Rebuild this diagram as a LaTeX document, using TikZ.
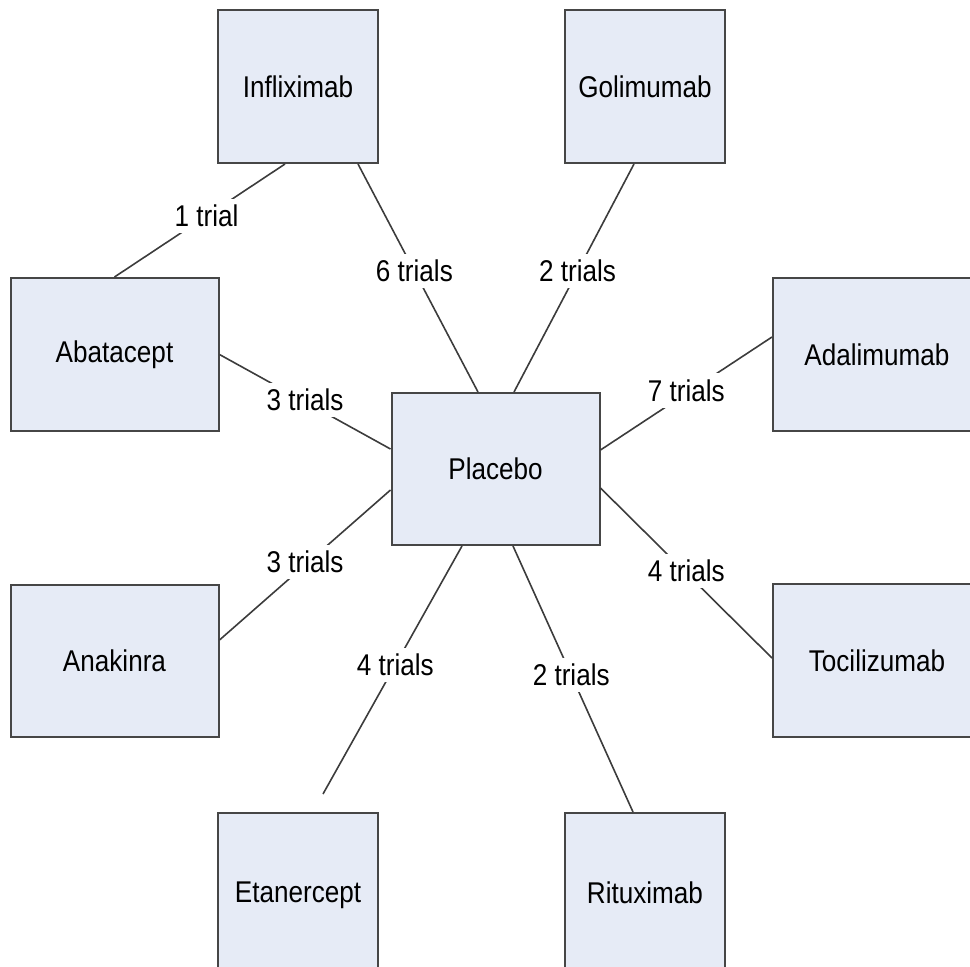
\documentclass[tikz,border=0pt]{standalone}
\usepackage{fontspec}
\setmainfont{Liberation Sans}[FakeStretch=0.87]
\begin{document}
\begin{tikzpicture}[x=1pt,y=-1pt,
  drug/.style={draw=boxline, line width=2pt, fill=boxfill, inner sep=0pt,
    minimum height=153pt, font=\fontsize{30}{34}\selectfont},
  narrow/.style={drug, minimum width=160pt},
  wide/.style={drug, minimum width=208pt},
  link/.style={draw=linkcol, line width=1.6pt},
  count/.style={fill=white, inner xsep=5pt, inner ysep=6pt, font=\fontsize{30}{34}\selectfont}]
\definecolor{boxfill}{RGB}{230,235,246}
\definecolor{boxline}{RGB}{70,70,70}
\definecolor{linkcol}{RGB}{60,60,60}
\useasboundingbox (0,0) rectangle (970,967);
\clip (0,0) rectangle (970,967);

% treatment boxes (outer ones run past the frame edge)
\node[narrow] (infl) at (298,86.5)  {Infliximab};
\node[narrow] (goli) at (645,86.5)  {Golimumab};
\node[wide]   (abat) at (114.5,354.5) {Abatacept};
\node[wide, minimum width=224pt] (adal) at (885,354.5) {\hspace*{-16pt}Adalimumab};
\node[wide, minimum height=152pt] (plac) at (495.5,469) {Placebo};
\node[wide, minimum height=152pt] (anak) at (114.5,661) {Anakinra};
\node[wide, minimum width=224pt] (toci) at (885,660.5) {\hspace*{-16pt}Tocilizumab};
\node[narrow, minimum height=166pt] (etan) at (298,896) {\raisebox{7pt}{Etanercept}};
\node[narrow, minimum height=166pt] (ritu) at (645,896) {\raisebox{7pt}{Rituximab}};

% comparisons with trial counts
\path[link] ([xshift=-13pt]infl.south) -- (abat.north)
  node[count, pos=0.46] {1 trial};
\path[link] ([xshift=60pt]infl.south) -- ([xshift=-17.5pt]plac.north)
  node[count, pos=0.47] {6 trials};
\path[link] ([xshift=-11pt]goli.south) -- ([xshift=18.5pt]plac.north)
  node[count, pos=0.47] {2 trials};
\path[link] (abat.east) -- ([yshift=20pt]plac.west)
  node[count, pos=0.5, yshift=2pt] {3 trials};
\path[link] ([yshift=17.5pt]adal.west) -- ([yshift=19pt]plac.east)
  node[count, pos=0.5, yshift=3pt] {7 trials};
\path[link] ([yshift=21pt]anak.east) -- ([yshift=-21pt]plac.west)
  node[count, pos=0.5, yshift=3pt] {3 trials};
\path[link] ([yshift=2.5pt]toci.west) -- ([yshift=-19pt]plac.east)
  node[count, pos=0.5, yshift=2pt] {4 trials};
\path[link] ([xshift=25pt,yshift=18pt]etan.north) -- ([xshift=-33.5pt]plac.south)
  node[count, pos=0.52] {4 trials};
\path[link] ([xshift=-12pt]ritu.north) -- ([xshift=17.5pt]plac.south)
  node[count, pos=0.515] {2 trials};
\end{tikzpicture}
\end{document}
